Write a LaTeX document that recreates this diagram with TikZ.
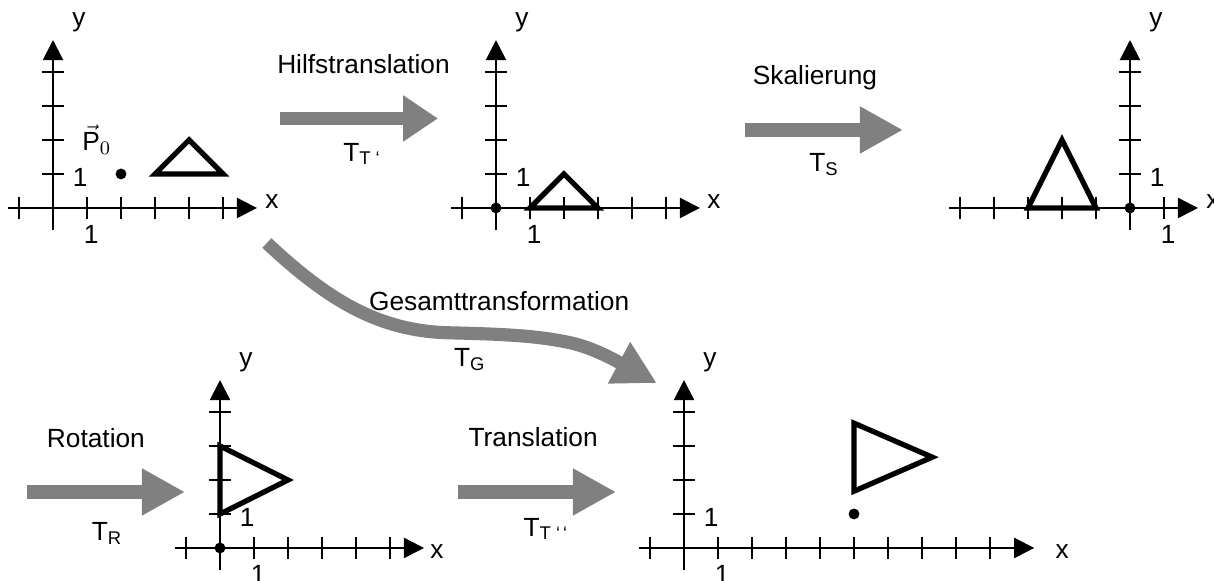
\documentclass[tikz,border=0pt]{standalone}
\usepackage{amsmath}
\usepackage{fontspec}
\setmainfont{Liberation Sans}
\usetikzlibrary{arrows.meta}
\definecolor{pfeilgrau}{RGB}{128,128,128}
\tikzset{
  achse/.style={line width=0.84pt, -{Triangle[width=8.4pt,length=8.4pt]}},
  strich/.style={line width=0.84pt},
  figur/.style={line width=2.2pt},
  punkt/.style={fill=black},
  lbl/.style={inner sep=0pt, font=\fontsize{11}{13}\selectfont},
  trafo/.style={draw=pfeilgrau, line width=5.5pt, -{Triangle[width=18.4pt,length=18pt]}}
}
% Koordinatensystem: Praefix, erster/letzter Strich, Pfeilspitze x, Lage des x
\newcommand{\kosys}[6]{%
  \draw[achse] (#2-0.33,0) -- (#4,0);
  \draw[achse] (0,-0.65) -- (0,4.94);
  \foreach \i in {#2,...,#3}{\ifnum\i=0 \else \draw[strich] (\i,-0.33) -- (\i,0.33);\fi}
  \foreach \j in {1,...,4}{\draw[strich] (-0.33,\j) -- (0.33,\j);}
  \node[lbl] (#1-y) at (0.76,5.46) {y};
  \node[lbl] (#1-x) at (#5,#6) {x};
  \node[lbl] (#1-einsx) at (1.12,-0.79) {1};
  \node[lbl] (#1-einsy) at (0.8,0.89) {1};
}

\begin{document}
\begin{tikzpicture}[x=0.5cm,y=0.5cm]
\useasboundingbox (0,0) rectangle (35.706,17.088);

% Ausgangslage
\begin{scope}[shift={(1.559,10.971)}]
  \kosys{a}{-1}{5}{6}{6.44}{0.18}
  \fill[punkt] (2,1) circle (0.16);
  \draw[figur] (3,1) -- (5,1) -- (4,2) -- cycle;
  \node[lbl] (p0) at (1.29,2.0) {$\vec{\text{P}}_{0}$};
\end{scope}

% nach Hilfstranslation
\begin{scope}[shift={(14.588,10.971)}]
  \kosys{b}{-1}{5}{6}{6.41}{0.18}
  \fill[punkt] (0,0) circle (0.16);
  \draw[figur] (1,0) -- (3,0) -- (2,1) -- cycle;
\end{scope}

% nach Skalierung
\begin{scope}[shift={(33.235,10.971)}]
  \kosys{c}{-5}{1}{2}{2.44}{0.18}
  \fill[punkt] (0,0) circle (0.16);
  \draw[figur] (-3,0) -- (-1,0) -- (-2,2) -- cycle;
\end{scope}

% nach Rotation
\begin{scope}[shift={(6.471,0.971)}]
  \kosys{d}{-1}{5}{6}{6.38}{-0.12}
  \fill[punkt] (0,0) circle (0.16);
  \draw[figur] (0,1) -- (0,3) -- (2,2) -- cycle;
\end{scope}

% Endlage
\begin{scope}[shift={(20.118,0.971)}]
  \kosys{e}{-1}{9}{10.3}{11.12}{-0.12}
  \fill[punkt] (5,1) circle (0.16);
  \draw[figur] (5,1.67) -- (5,3.67) -- (7.3,2.67) -- cycle;
\end{scope}

% Transformationspfeile
\coordinate (hilf-a) at (8.235,13.603);
\coordinate (hilf-b) at (12.882,13.603);
\coordinate (skal-a) at (21.912,13.265);
\coordinate (skal-b) at (26.559,13.265);
\coordinate (rot-a) at (0.794,2.618);
\coordinate (rot-b) at (5.441,2.618);
\coordinate (trans-a) at (13.471,2.618);
\coordinate (trans-b) at (18.118,2.618);
\coordinate (ges-a) at (7.85,9.94);
\coordinate (ges-m) at (13.2,7.3);
\coordinate (ges-n) at (16.8,7.0);
\coordinate (ges-b) at (19.32,5.82);

\draw[trafo, -{Triangle[width=18.4pt,length=14.6pt]}] (hilf-a) -- (hilf-b);
\draw[trafo] (skal-a) -- (skal-b);
\draw[trafo] (rot-a) -- (rot-b);
\draw[trafo] (trans-a) -- (trans-b);
\draw[trafo] (ges-a) .. controls (9.7,8.2) and (11.2,7.35) .. (ges-m)
  .. controls (14.8,7.26) and (15.8,7.22) .. (ges-n)
  .. controls (17.6,6.824) and (18.5,6.26) .. (ges-b);

\node[lbl] (hilf) at (10.69,15.21) {Hilfstranslation};
\node[lbl] (tt1) at (10.65,12.56) {T\textsubscript{T ‘}};
\node[lbl] (skal) at (23.97,14.81) {Skalierung};
\node[lbl] (ts) at (24.24,12.26) {T\textsubscript{S}};
\node[lbl] (rot) at (2.82,4.19) {Rotation};
\node[lbl] (tr) at (3.15,1.41) {T\textsubscript{R}};
\node[lbl] (trans) at (15.68,4.22) {Translation};
\node[lbl] (tt2) at (16.06,1.53) {T\textsubscript{T ‘\,‘}};
\node[lbl] (ges) at (14.68,8.24) {Gesamttransformation};
\node[lbl] (tg) at (13.82,6.5) {T\textsubscript{G}};
\end{tikzpicture}
\end{document}
